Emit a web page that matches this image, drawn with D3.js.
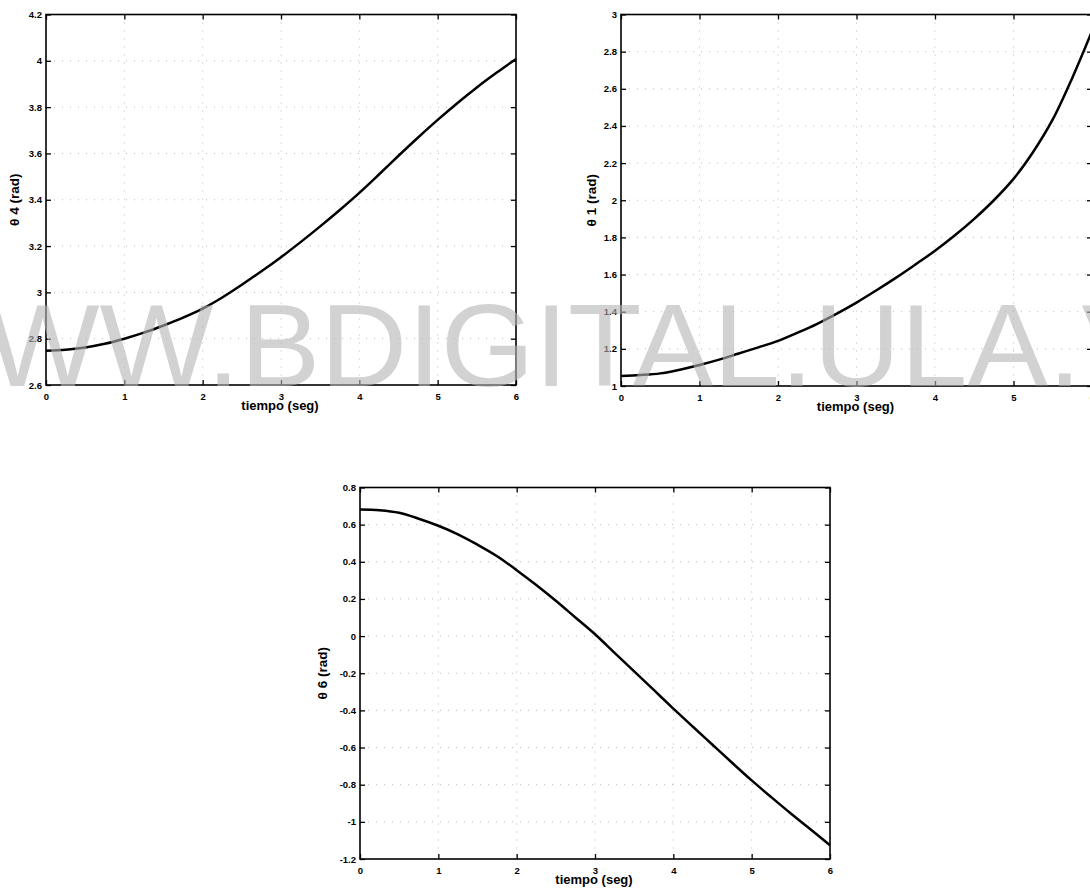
<!DOCTYPE html>
<html>
<head>
<meta charset="utf-8">
<script src="https://cdn.jsdelivr.net/npm/d3@7"></script>
<style>
  html, body { margin: 0; padding: 0; background: #fff; }
  svg { display: block; }
  text { font-family: "Liberation Sans", Arial, Helvetica, sans-serif; }
</style>
</head>
<body>
<svg id="chart" width="1090" height="893"></svg>
<script>
// Sampling instants (s)
const timeSec = [0, 0.25, 0.5, 0.75, 1, 1.25, 1.5, 1.75, 2, 2.25, 2.5, 2.75, 3,
                 3.25, 3.5, 3.75, 4, 4.25, 4.5, 4.75, 5, 5.25, 5.5, 5.75, 6];

// Joint angle trajectories (rad)
const theta4 = [2.748, 2.752, 2.762, 2.778, 2.800, 2.826, 2.857, 2.891, 2.930, 2.978, 3.033, 3.091, 3.152,
                3.217, 3.285, 3.356, 3.430, 3.509, 3.590, 3.669, 3.745, 3.817, 3.885, 3.948, 4.008];
const theta1 = [1.054, 1.059, 1.068, 1.088, 1.113, 1.142, 1.175, 1.208, 1.243, 1.287, 1.335, 1.390, 1.449,
                1.514, 1.582, 1.654, 1.728, 1.810, 1.900, 2.000, 2.115, 2.260, 2.435, 2.660, 2.910];
const theta6 = [0.682, 0.678, 0.664, 0.632, 0.594, 0.548, 0.492, 0.430, 0.355, 0.275, 0.190, 0.100, 0.010,
                -0.090, -0.190, -0.290, -0.390, -0.488, -0.585, -0.682, -0.777, -0.867, -0.955, -1.040, -1.126];

// Tick values
const xTicks = [0, 1, 2, 3, 4, 5, 6];
const yTicks4 = [2.6, 2.8, 3, 3.2, 3.4, 3.6, 3.8, 4, 4.2];
const yTicks1 = [1, 1.2, 1.4, 1.6, 1.8, 2, 2.2, 2.4, 2.6, 2.8, 3];
const yTicks6 = [-1.2, -1, -0.8, -0.6, -0.4, -0.2, 0, 0.2, 0.4, 0.6, 0.8];

const xLabel = "tiempo (seg)";
const watermark = "WWW.BDIGITAL.ULA.VE";

const svg = d3.select("#chart");

const panels = [
  { x0: 46, x1: 516, y0: 14.5, y1: 385, domain: [2.6, 4.2], ticks: yTicks4, values: theta4, label: "θ 4 (rad)", labelX: 14 },
  { x0: 621, x1: 1092, y0: 14.5, y1: 386, domain: [1, 3], ticks: yTicks1, values: theta1, label: "θ 1 (rad)", labelX: 591 },
  { x0: 360, x1: 830, y0: 487.5, y1: 859, domain: [-1.2, 0.8], ticks: yTicks6, values: theta6, label: "θ 6 (rad)", labelX: 322 }
];

const fmt = d => String(+d.toFixed(1));

panels.forEach(p => {
  const x = d3.scaleLinear().domain([0, 6]).range([p.x0, p.x1]);
  const y = d3.scaleLinear().domain(p.domain).range([p.y1, p.y0]);
  const g = svg.append("g");

  // dotted grid
  const grid = g.append("g").attr("stroke", "#a8a8a8").attr("stroke-width", 0.8)
    .attr("stroke-dasharray", "1,7");
  grid.selectAll("line.gx").data(xTicks.slice(1, -1)).join("line")
    .attr("x1", d => x(d)).attr("x2", d => x(d)).attr("y1", p.y0).attr("y2", p.y1);
  grid.selectAll("line.gy").data(p.ticks.slice(1, -1)).join("line")
    .attr("x1", p.x0).attr("x2", p.x1).attr("y1", d => y(d)).attr("y2", d => y(d));

  // axes with inward ticks on all four sides
  const styleAxis = a => {
    a.select(".domain").remove();
    a.selectAll(".tick line").attr("stroke", "#000").attr("stroke-width", 1.3);
    a.selectAll(".tick text").attr("font-size", 9.5).attr("font-weight", "bold").attr("fill", "#000");
  };
  g.append("g").attr("transform", `translate(0,${p.y1})`)
    .call(d3.axisBottom(x).tickValues(xTicks).tickFormat(fmt).tickSizeInner(-5).tickPadding(8))
    .call(styleAxis);
  g.append("g").attr("transform", `translate(0,${p.y0})`)
    .call(d3.axisTop(x).tickValues(xTicks).tickFormat("").tickSizeInner(-5))
    .call(styleAxis);
  g.append("g").attr("transform", `translate(${p.x0},0)`)
    .call(d3.axisLeft(y).tickValues(p.ticks).tickFormat(fmt).tickSizeInner(-5).tickPadding(4))
    .call(styleAxis);
  g.append("g").attr("transform", `translate(${p.x1},0)`)
    .call(d3.axisRight(y).tickValues(p.ticks).tickFormat("").tickSizeInner(-5))
    .call(styleAxis);

  // frame
  g.append("rect").attr("x", p.x0).attr("y", p.y0)
    .attr("width", p.x1 - p.x0).attr("height", p.y1 - p.y0)
    .attr("fill", "none").attr("stroke", "#000").attr("stroke-width", 1.6);

  // trajectory
  const line = d3.line().x((d, i) => x(timeSec[i])).y(d => y(d)).curve(d3.curveCatmullRom.alpha(0.5));
  g.append("path").datum(p.values).attr("d", line)
    .attr("fill", "none").attr("stroke", "#000").attr("stroke-width", 2.5)
    .attr("stroke-linejoin", "round");

  // axis titles
  g.append("text").attr("x", (p.x0 + p.x1) / 2 - 1).attr("y", p.y1 + 25)
    .attr("text-anchor", "middle").attr("font-size", 13).attr("font-weight", "bold")
    .text(xLabel);
  g.append("text")
    .attr("transform", `translate(${p.labelX},${(p.y0 + p.y1) / 2}) rotate(-90)`)
    .attr("text-anchor", "middle").attr("dy", "0.35em")
    .attr("font-size", 13.5).attr("font-weight", "bold")
    .text(p.label);
});

// site watermark across the upper row
svg.append("text")
  .attr("transform", "translate(-128,386) scale(1.03,1)")
  .attr("font-size", 117)
  .attr("fill", "#b4b4b4").attr("fill-opacity", 0.6)
  .text(watermark);
</script>
</body>
</html>
